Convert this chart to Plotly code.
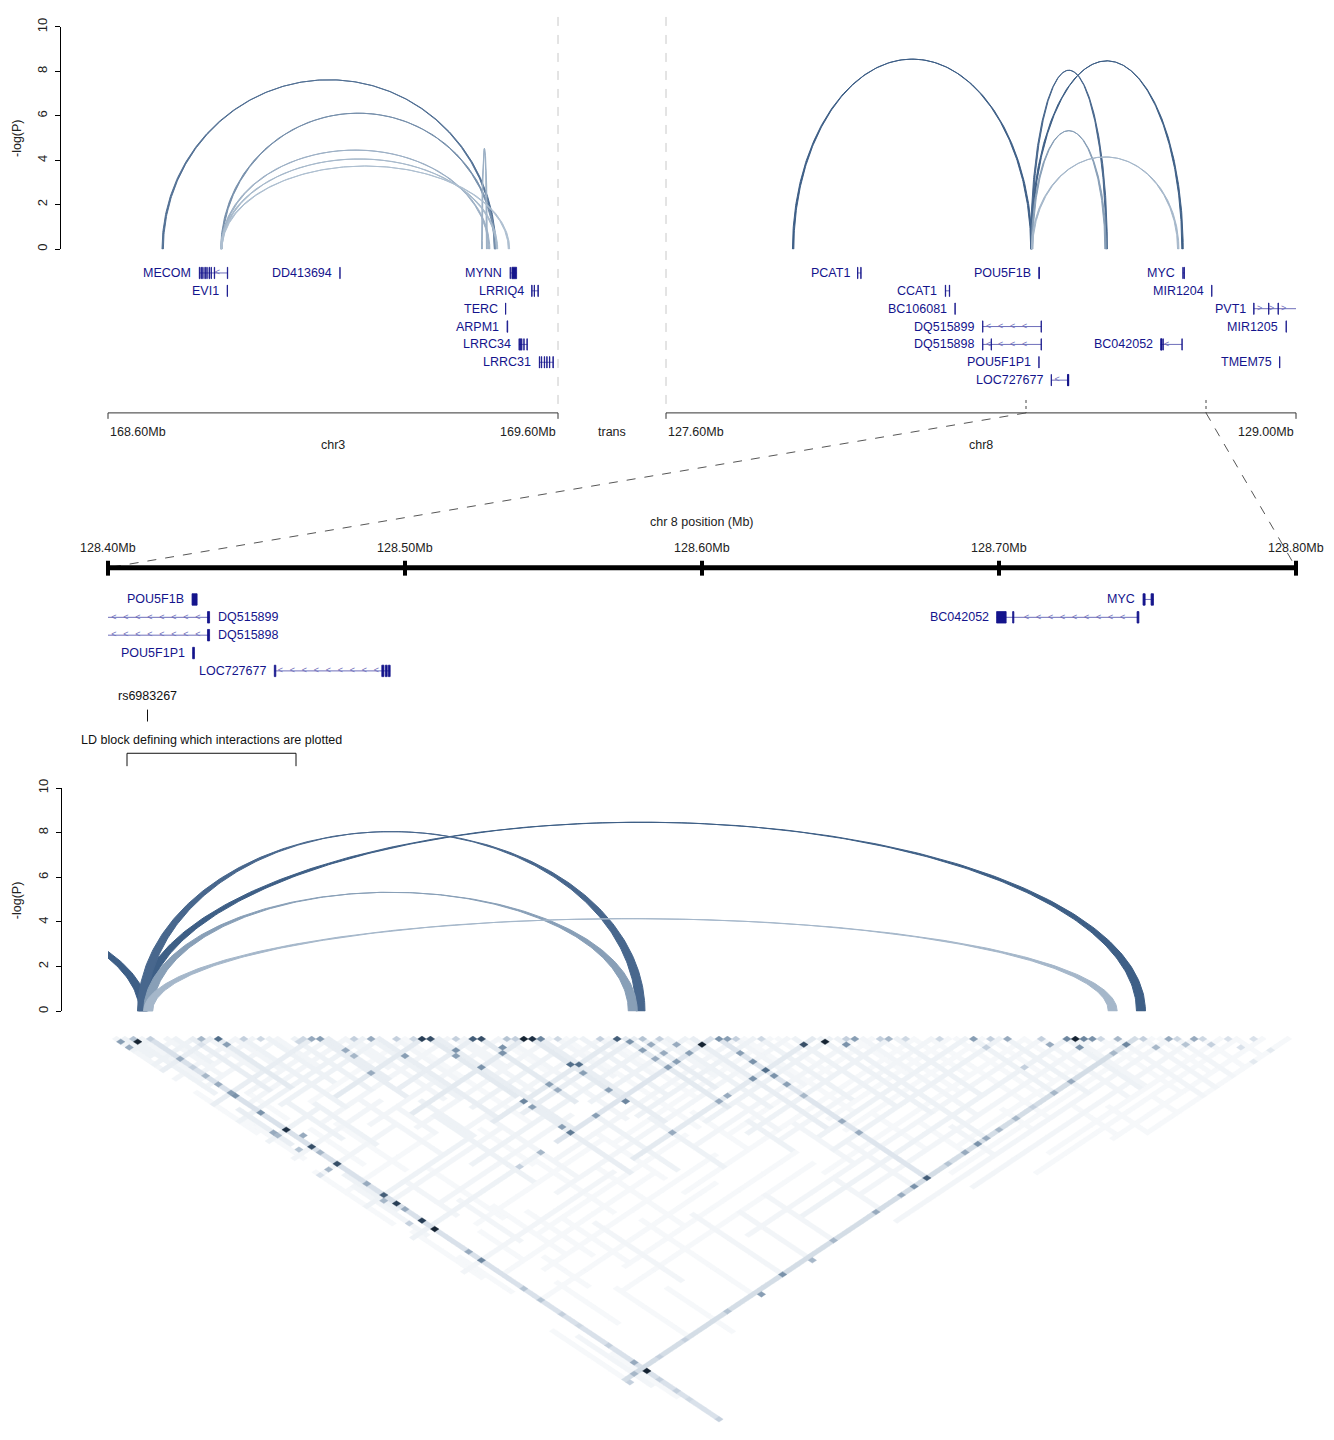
import numpy as np
import plotly.graph_objects as go

W, H = 1334, 1440
FONT = "Liberation Sans, Arial, Helvetica, sans-serif"
NAVY = "#14148c"
INTRON = "#6e6eba"

# ---------------------------------------------------------------- data
# cis interactions on chr3 : anchor1 (start,end), anchor2 (start,end) in Mb, -log(P)
chr3_a1 = [(168.7200, 168.7230), (168.8505, 168.8535), (168.8505, 168.8535),
           (168.8505, 168.8535), (168.8505, 168.8535), (169.4300, 169.4320)]
chr3_a2 = [(169.4590, 169.4620), (169.4585, 169.4615), (169.4455, 169.4485),
           (169.4630, 169.4660), (169.4895, 169.4925), (169.4410, 169.4430)]
chr3_logp = [7.62, 6.12, 4.46, 4.06, 3.74, 4.53]

# interactions on chr8
chr8_a1 = [(127.8810, 127.8840), (128.4100, 128.4130), (128.4100, 128.4130),
           (128.4120, 128.4150), (128.4120, 128.4150)]
chr8_a2 = [(128.4105, 128.4135), (128.5778, 128.5808), (128.7463, 128.7493),
           (128.5752, 128.5782), (128.7368, 128.7398)]
chr8_logp = [8.55, 8.05, 8.47, 5.33, 4.15]

# genes
gene_name = ["MECOM", "EVI1", "DD413694", "MYNN", "LRRIQ4", "TERC", "ARPM1", "LRRC34", "LRRC31",
             "PCAT1", "CCAT1", "BC106081", "DQ515899", "DQ515898", "POU5F1B", "POU5F1P1",
             "LOC727677", "MYC", "MIR1204", "PVT1", "MIR1205", "BC042052", "TMEM75"]
gene_chrom = ["chr3"] * 9 + ["chr8"] * 14
gene_start = [168.8029, 168.8648, 169.1152, 169.4935, 169.5415, 169.4834, 169.4868, 169.5133, 169.5585,
              128.0256, 128.2207, 128.2420, 128.3036, 128.3036, 128.4283, 128.4285,
              128.4560, 128.7485, 128.8125, 128.9060, 128.9778, 128.6992, 128.9634]
gene_end = [168.8660, 168.8656, 169.1158, 169.5080, 169.5563, 169.4839, 169.4882, 169.5318, 169.5896,
            128.0336, 128.2304, 128.2428, 128.4342, 128.4342, 128.4300, 128.4291,
            128.4950, 128.7520, 128.8132, 129.0040, 128.9786, 128.7471, 128.9642]
gene_strand = ["-", "-", "+", "+", "+", "-", "+", "-", "-",
               "+", "-", "+", "-", "-", "+", "+", "-", "+", "+", "+", "+", "-", "+"]
gene_exons = [
    [(168.8029, 168.8042), (168.8068, 168.8076), (168.8105, 168.8113), (168.8152, 168.8165),
     (168.8196, 168.8204), (168.8245, 168.8256), (168.8290, 168.8298), (168.8362, 168.8370),
     (168.8652, 168.8660)],
    [(168.8648, 168.8656)],
    [(169.1152, 169.1158)],
    [(169.4935, 169.4943), (169.4975, 169.5080)],
    [(169.5415, 169.5424), (169.5470, 169.5478), (169.5553, 169.5563)],
    [(169.4834, 169.4839)],
    [(169.4868, 169.4882)],
    [(169.5133, 169.5142), (169.5160, 169.5168), (169.5190, 169.5198), (169.5240, 169.5248),
     (169.5309, 169.5318)],
    [(169.5585, 169.5594), (169.5630, 169.5638), (169.5695, 169.5703), (169.5750, 169.5758),
     (169.5810, 169.5818), (169.5887, 169.5896)],
    [(128.0256, 128.0264), (128.0328, 128.0336)],
    [(128.2207, 128.2215), (128.2296, 128.2304)],
    [(128.2420, 128.2428)],
    [(128.3036, 128.3042), (128.4335, 128.4342)],
    [(128.3036, 128.3042), (128.3226, 128.3232), (128.4335, 128.4342)],
    [(128.4283, 128.4300)],
    [(128.4285, 128.4291)],
    [(128.4560, 128.4565), (128.4922, 128.4929), (128.4934, 128.4940), (128.4944, 128.4950)],
    [(128.7485, 128.7492), (128.7512, 128.7520)],
    [(128.8125, 128.8132)],
    [(128.9060, 128.9068), (128.9390, 128.9398), (128.9600, 128.9608), (129.0030, 129.0040)],
    [(128.9778, 128.9786)],
    [(128.6992, 128.7024), (128.7046, 128.7050), (128.7465, 128.7471)],
    [(128.9634, 128.9642)],
]
gene_row_top = [1, 2, 1, 1, 2, 3, 4, 5, 6,
                1, 2, 3, 4, 5, 1, 6, 7, 1, 2, 3, 4, 5, 6]
gene_row_zoom = [None] * 9 + [None, None, None, 2, 3, 1, 4, 5, 1, None, None, None, 2, None]

# axis ticks
chr3_ticks = [168.60, 169.60]
chr8_ticks = [127.60, 129.00]
zoom_ticks = [128.40, 128.50, 128.60, 128.70, 128.80]
logp_ticks = [0, 2, 4, 6, 8, 10]

snp_name = "rs6983267"
snp_pos = 128.4133
ld_block = (128.4064, 128.4633)

# LD matrix (r^2) between SNPs (index i < j)
N_SNP = 140
ld_row_runs = [  # (i, j_from, j_to, r2)
    (0, 1, 12, 0.07), (0, 20, 34, 0.05), (0, 48, 66, 0.05), (0, 104, 122, 0.04),
    (1, 2, 8, 0.10), (1, 30, 44, 0.06), (1, 70, 86, 0.05),
    (2, 3, 22, 0.10), (2, 28, 40, 0.12), (2, 55, 72, 0.08), (2, 80, 92, 0.06), (2, 108, 125, 0.07),
    (3, 4, 18, 0.08), (3, 52, 64, 0.10), (3, 115, 130, 0.06),
    (4, 5, 139, 0.20),
    (6, 7, 20, 0.08), (6, 26, 35, 0.06), (7, 8, 16, 0.10), (7, 40, 52, 0.05),
    (9, 10, 28, 0.12), (9, 33, 45, 0.09), (9, 60, 72, 0.07), (9, 78, 88, 0.05), (9, 96, 110, 0.05),
    (11, 12, 24, 0.08), (11, 42, 58, 0.06),
    (12, 13, 30, 0.14), (12, 36, 50, 0.10), (12, 70, 84, 0.07), (12, 90, 100, 0.05),
    (14, 15, 26, 0.07), (14, 60, 78, 0.05),
    (15, 16, 40, 0.09), (15, 75, 92, 0.06), (15, 104, 120, 0.05),
    (18, 19, 34, 0.11), (18, 40, 60, 0.08), (18, 80, 95, 0.06), (19, 20, 30, 0.07),
    (21, 22, 40, 0.10), (21, 46, 55, 0.07), (21, 85, 100, 0.05), (21, 110, 125, 0.05),
    (24, 25, 45, 0.13), (24, 52, 75, 0.10), (24, 90, 110, 0.07),
    (25, 26, 40, 0.12), (25, 48, 60, 0.09), (27, 28, 38, 0.07), (27, 60, 72, 0.05),
    (28, 29, 50, 0.07), (28, 72, 90, 0.05),
    (30, 31, 52, 0.11), (30, 58, 80, 0.08), (30, 95, 120, 0.06), (31, 32, 60, 0.12),
    (33, 34, 48, 0.07), (34, 35, 65, 0.06), (34, 80, 100, 0.05),
    (37, 38, 58, 0.16), (37, 62, 85, 0.12), (37, 100, 121, 0.08), (38, 39, 70, 0.12),
    (40, 41, 60, 0.07), (40, 75, 90, 0.05), (41, 42, 52, 0.08),
    (43, 44, 66, 0.14), (43, 72, 90, 0.10), (43, 105, 121, 0.07),
    (45, 46, 58, 0.06), (46, 47, 75, 0.07),
    (49, 50, 72, 0.16), (49, 78, 95, 0.11), (49, 105, 121, 0.08), (50, 51, 80, 0.12),
    (52, 53, 66, 0.07), (53, 54, 85, 0.06), (55, 56, 75, 0.09), (55, 82, 95, 0.06),
    (57, 58, 70, 0.07), (58, 59, 80, 0.06),
    (60, 61, 85, 0.14), (60, 90, 100, 0.09), (60, 110, 121, 0.07),
    (62, 63, 80, 0.12), (62, 86, 95, 0.08), (64, 65, 78, 0.07),
    (65, 66, 90, 0.11), (65, 96, 110, 0.07), (67, 68, 84, 0.06),
    (68, 69, 100, 0.12), (68, 106, 121, 0.08), (71, 72, 121, 0.17),
    (73, 74, 90, 0.07), (74, 75, 100, 0.06), (76, 77, 98, 0.09), (76, 104, 115, 0.06),
    (78, 79, 92, 0.06), (80, 81, 105, 0.10), (80, 110, 120, 0.06),
    (83, 84, 110, 0.11), (83, 115, 125, 0.07), (85, 86, 120, 0.10), (87, 88, 100, 0.06),
    (88, 89, 115, 0.07), (90, 91, 110, 0.05), (92, 93, 112, 0.09), (92, 118, 125, 0.06),
    (94, 95, 108, 0.05), (96, 97, 125, 0.06), (99, 100, 120, 0.05),
    (101, 102, 120, 0.10), (101, 125, 135, 0.06), (103, 104, 118, 0.06),
    (105, 106, 125, 0.11), (105, 130, 139, 0.06), (107, 108, 120, 0.05),
    (109, 110, 130, 0.07), (112, 113, 130, 0.10), (112, 134, 139, 0.06),
    (113, 114, 130, 0.08), (116, 117, 135, 0.06), (118, 119, 139, 0.08),
    (121, 122, 139, 0.08), (123, 124, 135, 0.06), (125, 126, 139, 0.07),
    (128, 129, 139, 0.06), (132, 133, 139, 0.05),
]
ld_col_runs = [  # (j, i_from, i_to, r2)
    (5, 0, 4, 0.10), (8, 0, 7, 0.08), (10, 0, 9, 0.09), (12, 0, 11, 0.13), (15, 0, 14, 0.08),
    (17, 3, 16, 0.07), (20, 2, 19, 0.08), (24, 0, 23, 0.13), (26, 6, 25, 0.07),
    (28, 5, 27, 0.08), (30, 0, 29, 0.11), (32, 8, 31, 0.09), (35, 12, 34, 0.06),
    (37, 0, 12, 0.10), (37, 16, 36, 0.15), (40, 10, 39, 0.08),
    (43, 0, 20, 0.08), (43, 24, 42, 0.13), (46, 15, 45, 0.07),
    (49, 0, 18, 0.08), (49, 22, 48, 0.15), (52, 20, 51, 0.07),
    (55, 0, 20, 0.06), (55, 30, 54, 0.09), (58, 25, 57, 0.07),
    (60, 0, 25, 0.10), (60, 30, 59, 0.16), (62, 5, 30, 0.08), (62, 35, 61, 0.13),
    (65, 20, 64, 0.09), (68, 10, 40, 0.07), (68, 45, 67, 0.11),
    (71, 0, 30, 0.10), (71, 34, 70, 0.17), (74, 30, 73, 0.07),
    (76, 10, 40, 0.05), (76, 48, 75, 0.09), (78, 40, 77, 0.06), (80, 25, 79, 0.08),
    (83, 0, 35, 0.08), (83, 40, 82, 0.14), (85, 15, 50, 0.06), (85, 55, 84, 0.11),
    (88, 5, 40, 0.05), (88, 50, 87, 0.08), (90, 55, 89, 0.06),
    (92, 10, 50, 0.06), (92, 58, 91, 0.09), (95, 40, 94, 0.06),
    (97, 5, 45, 0.05), (97, 60, 96, 0.07), (99, 70, 98, 0.05),
    (101, 20, 60, 0.06), (101, 66, 100, 0.09), (103, 70, 102, 0.06),
    (105, 15, 60, 0.06), (105, 65, 104, 0.10), (108, 60, 107, 0.06),
    (110, 40, 109, 0.07), (113, 50, 112, 0.09), (116, 60, 115, 0.08),
    (119, 80, 118, 0.06), (121, 0, 120, 0.22), (123, 75, 122, 0.06),
    (125, 60, 124, 0.07), (128, 75, 127, 0.07), (131, 90, 130, 0.05),
    (133, 85, 132, 0.05), (136, 100, 135, 0.05), (139, 105, 138, 0.04),
]
ld_cells = [  # (i, j, r2)
    (0, 2, 0.50), (0, 4, 0.45), (2, 3, 0.35), (2, 4, 0.95), (4, 5, 0.30), (4, 9, 0.20),
    (4, 12, 0.45), (4, 15, 0.30), (4, 18, 0.40), (4, 21, 0.45), (4, 24, 0.50), (4, 25, 0.55),
    (4, 31, 0.55), (4, 37, 0.90), (4, 43, 0.80), (4, 49, 0.80), (4, 56, 0.45), (4, 60, 0.75),
    (4, 63, 0.85), (4, 65, 0.45), (4, 69, 0.85), (4, 72, 0.95), (4, 80, 0.45), (4, 83, 0.60),
    (4, 93, 0.35), (4, 97, 0.35), (4, 102, 0.30), (4, 106, 0.25), (4, 113, 0.30), (4, 119, 0.45),
    (4, 122, 0.95), (4, 125, 0.30), (4, 129, 0.30), (4, 132, 0.25), (4, 135, 0.20), (4, 139, 0.30),
    (2, 121, 0.40), (0, 122, 0.30), (2, 36, 0.45), (2, 37, 0.40), (5, 40, 0.45), (2, 42, 0.35),
    (4, 45, 0.40), (2, 49, 0.40), (0, 49, 0.20), (3, 61, 0.40), (2, 68, 0.30), (9, 12, 0.20),
    (10, 11, 0.40), (12, 13, 0.70), (12, 15, 0.50), (21, 23, 0.25), (23, 24, 0.45), (24, 25, 0.50),
    (25, 30, 0.45), (25, 32, 0.40), (24, 37, 0.45), (30, 31, 0.45), (31, 38, 0.50), (36, 37, 0.85),
    (37, 38, 0.80), (38, 43, 0.55), (37, 44, 0.50), (38, 49, 0.55), (42, 43, 0.75), (43, 44, 0.80),
    (43, 49, 0.55), (44, 48, 0.55), (46, 47, 0.35), (47, 48, 0.30), (48, 49, 0.95), (49, 50, 0.90),
    (50, 51, 0.60), (49, 59, 0.70), (50, 60, 0.70), (49, 62, 0.50), (43, 60, 0.50), (43, 62, 0.45),
    (37, 60, 0.60), (37, 62, 0.50), (49, 68, 0.50), (49, 72, 0.60), (37, 69, 0.50), (37, 71, 0.65),
    (43, 71, 0.50), (30, 71, 0.40), (25, 71, 0.30), (59, 60, 0.75), (60, 62, 0.55), (62, 65, 0.45),
    (65, 68, 0.45), (68, 71, 0.95), (71, 72, 0.55), (72, 73, 0.50), (80, 83, 0.80), (83, 85, 0.95),
    (85, 88, 0.55), (87, 88, 0.50), (91, 92, 0.40), (60, 65, 0.50), (60, 68, 0.45), (62, 68, 0.45),
    (60, 71, 0.50), (62, 71, 0.50), (65, 71, 0.50), (60, 83, 0.45), (49, 83, 0.45), (62, 83, 0.45),
    (71, 77, 0.50), (71, 80, 0.55), (71, 83, 0.70), (68, 83, 0.55), (71, 85, 0.55), (71, 88, 0.50),
    (71, 92, 0.40), (71, 101, 0.45), (71, 105, 0.45), (68, 121, 0.55), (65, 121, 0.45), (59, 121, 0.45),
    (101, 102, 0.50), (105, 106, 0.45), (101, 105, 0.30), (112, 113, 0.60), (113, 114, 0.95),
    (114, 115, 0.60), (115, 116, 0.55), (109, 112, 0.45), (112, 116, 0.55), (118, 119, 0.40),
    (118, 121, 0.60), (124, 125, 0.45), (127, 128, 0.45), (125, 128, 0.35), (121, 125, 0.40),
    (128, 131, 0.30), (131, 135, 0.20), (134, 139, 0.15), (130, 139, 0.15), (105, 121, 0.45),
    (101, 121, 0.40), (96, 121, 0.30), (92, 121, 0.40), (88, 121, 0.40), (85, 121, 0.45),
    (83, 121, 0.55), (80, 121, 0.45), (76, 121, 0.35), (71, 121, 0.75), (115, 121, 0.40),
    (102, 113, 0.30), (49, 121, 0.40), (43, 122, 0.40), (37, 121, 0.55), (31, 122, 0.50),
    (24, 121, 0.35), (14, 121, 0.30), (8, 121, 0.30),
    (15, 16, 0.30), (17, 18, 0.25), (22, 23, 0.25), (28, 29, 0.30), (33, 34, 0.30),
    (35, 36, 0.25), (40, 41, 0.30), (52, 53, 0.25), (57, 58, 0.30), (62, 63, 0.35),
    (64, 65, 0.30), (73, 74, 0.30), (76, 77, 0.25), (86, 87, 0.30), (90, 91, 0.30),
    (93, 94, 0.25), (97, 98, 0.25), (103, 104, 0.30), (109, 110, 0.30), (116, 117, 0.25),
    (121, 122, 0.30), (125, 126, 0.25), (128, 129, 0.25), (131, 132, 0.20), (134, 135, 0.20),
]

# ---------------------------------------------------------------- layout helpers
def py(p):
    return 1 - p / H


def pxl(p):
    return p / W


X3_DOM, X3_RNG = [pxl(108), pxl(558)], [168.6, 169.6]
X8_DOM, X8_RNG = [pxl(666), pxl(1296)], [127.6, 129.0]
XZ_DOM, XZ_RNG = [pxl(108), pxl(1296)], [128.4, 128.8]
XH_DOM, XH_RNG = [pxl(108), pxl(1296)], [0, N_SNP]
HM_TOP = 1035
HM_CELL_H = 0.674 * (1188 / N_SNP)
HM_YMAX = (H - HM_TOP) / HM_CELL_H


def to_paper(dom, rng, v):
    return dom[0] + (v - rng[0]) / (rng[1] - rng[0]) * (dom[1] - dom[0])


def px_per_unit(dom, rng):
    return (dom[1] - dom[0]) * W / (rng[1] - rng[0])


ARC_LIGHT = np.array([0xb4, 0xc4, 0xd4], float)
ARC_DARK = np.array([0x3d, 0x5e, 0x86], float)


def arc_color(p):
    t = float(np.clip((p - 3.5) / 5.0, 0, 1))
    c = ARC_LIGHT + (ARC_DARK - ARC_LIGHT) * t
    return "rgb(%d,%d,%d)" % tuple(int(round(v)) for v in c)


def arc_xy(a1, a2, h, n=260):
    lo, hi = sorted([a1, a2])
    co, ro = (lo[0] + hi[1]) / 2, (hi[1] - lo[0]) / 2
    ci, ri = (lo[1] + hi[0]) / 2, (hi[0] - lo[1]) / 2
    th = np.linspace(np.pi, 0, n)
    xo, yo = co + ro * np.cos(th), h * np.sin(th)
    xi, yi = ci + ri * np.cos(th[::-1]), h * np.sin(th[::-1])
    return (np.concatenate([xo, xi, xo[:1]]), np.concatenate([yo, yi, yo[:1]]))


LD_STOPS = [(0.0, (255, 255, 255)), (0.1, (238, 242, 246)), (0.3, (196, 208, 221)),
            (0.5, (136, 158, 180)), (0.7, (82, 110, 138)), (0.85, (40, 62, 86)),
            (1.0, (11, 21, 32))]


def ld_color(v):
    for (a, ca), (b, cb) in zip(LD_STOPS[:-1], LD_STOPS[1:]):
        if v <= b:
            t = (v - a) / (b - a)
            c = [ca[k] + (cb[k] - ca[k]) * t for k in range(3)]
            return "rgb(%d,%d,%d)" % tuple(int(round(x)) for x in c)
    return "rgb(%d,%d,%d)" % LD_STOPS[-1][1]


fig = go.Figure()
shapes, annots = [], []

# ---------------------------------------------------------------- arcs
def add_arcs(a1s, a2s, ps, xa, ya):
    order = np.argsort(ps)[::-1]
    for k in order:
        x, y = arc_xy(a1s[k], a2s[k], ps[k])
        col = arc_color(ps[k])
        fig.add_trace(go.Scatter(x=x, y=y, xaxis=xa, yaxis=ya, mode="lines", fill="toself",
                                 fillcolor=col, line=dict(color=col, width=1),
                                 hoverinfo="skip", showlegend=False))


add_arcs(chr3_a1, chr3_a2, chr3_logp, "x", "y")
add_arcs(chr8_a1, chr8_a2, chr8_logp, "x2", "y")
add_arcs(chr8_a1, chr8_a2, chr8_logp, "x3", "y4")

# ---------------------------------------------------------------- genes
def draw_gene(g, xa, ya, row, dom, rng):
    s, e = gene_start[g], gene_end[g]
    ppu = px_per_unit(dom, rng)
    if (e - s) * ppu > 1.5:
        fig.add_trace(go.Scatter(x=[s, e], y=[row, row], xaxis=xa, yaxis=ya, mode="lines",
                                 line=dict(color=INTRON, width=1), hoverinfo="skip",
                                 showlegend=False))
    vs, ve = max(s, rng[0]), min(e, rng[1])
    length_px = (ve - vs) * ppu
    if length_px > 14:
        step = 12.0 / ppu
        n = int(length_px // 12)
        xs = []
        for k in range(n):
            x = vs + step * (k + 0.5)
            near = any(ex0 - 2.5 / ppu <= x <= ex1 + 2.5 / ppu for ex0, ex1 in gene_exons[g])
            if not near and x < ve:
                xs.append(x)
        if xs:
            sym = "<" if gene_strand[g] == "-" else ">"
            fig.add_trace(go.Scatter(x=xs, y=[row] * len(xs), xaxis=xa, yaxis=ya, mode="text",
                                     text=[sym] * len(xs), textposition="middle center",
                                     textfont=dict(size=9, color=INTRON, family=FONT),
                                     hoverinfo="skip", showlegend=False))
    for ex0, ex1 in gene_exons[g]:
        shapes.append(dict(type="rect", xref=xa, yref=ya, x0=ex0, x1=ex1,
                           y0=row - 0.32, y1=row + 0.32, fillcolor=NAVY,
                           line=dict(color=NAVY, width=0.8), layer="above"))
    if s < rng[0]:
        annots.append(dict(x=e, y=row, xref=xa, yref=ya, text=gene_name[g], showarrow=False,
                           xanchor="left", yanchor="middle", xshift=6,
                           font=dict(size=12.5, color=NAVY, family=FONT)))
    else:
        annots.append(dict(x=s, y=row, xref=xa, yref=ya, text=gene_name[g], showarrow=False,
                           xanchor="right", yanchor="middle", xshift=-6,
                           font=dict(size=12.5, color=NAVY, family=FONT)))


for g in range(len(gene_name)):
    if gene_chrom[g] == "chr3":
        draw_gene(g, "x", "y2", gene_row_top[g], X3_DOM, X3_RNG)
    else:
        draw_gene(g, "x2", "y2", gene_row_top[g], X8_DOM, X8_RNG)
        if gene_row_zoom[g] is not None:
            draw_gene(g, "x3", "y3", gene_row_zoom[g], XZ_DOM, XZ_RNG)

# ---------------------------------------------------------------- LD heatmap
ld = {}
for i, j0, j1, v in ld_row_runs:
    for j in range(j0, j1 + 1):
        ld[(i, j)] = max(ld.get((i, j), 0), v)
for j, i0, i1, v in ld_col_runs:
    for i in range(i0, i1 + 1):
        ld[(i, j)] = max(ld.get((i, j), 0), v)
for i, j, v in ld_cells:
    ld[(i, j)] = v

levels = {}
for (i, j), v in ld.items():
    if not (0 <= i < j < N_SNP) or v <= 0:
        continue
    lv = round(v / 0.025) * 0.025
    levels.setdefault(lv, []).append((i, j))

for lv in sorted(levels):
    xs, ys = [], []
    for i, j in levels[lv]:
        cx, cy = (i + j + 1) / 2.0, (j - i) / 2.0
        xs += [cx - 0.5, cx, cx + 0.5, cx, cx - 0.5, None]
        ys += [cy, cy - 0.5, cy, cy + 0.5, cy, None]
    col = ld_color(lv)
    fig.add_trace(go.Scatter(x=xs, y=ys, xaxis="x4", yaxis="y5", mode="lines", fill="toself",
                             fillcolor=col, line=dict(color=col, width=0.4),
                             hoverinfo="skip", showlegend=False))

# ---------------------------------------------------------------- genomic axes (top)
AX_COL = "#333333"
for dom, rng, ticks, name in [(X3_DOM, X3_RNG, chr3_ticks, "chr3"),
                              (X8_DOM, X8_RNG, chr8_ticks, "chr8")]:
    x0p, x1p = to_paper(dom, rng, rng[0]), to_paper(dom, rng, rng[1])
    shapes.append(dict(type="line", xref="paper", yref="paper", x0=x0p, x1=x1p,
                       y0=py(407), y1=py(407), line=dict(color=AX_COL, width=1)))
    for k, t in enumerate(ticks):
        tp = to_paper(dom, rng, t)
        shapes.append(dict(type="line", xref="paper", yref="paper", x0=tp, x1=tp,
                           y0=py(407), y1=py(413), line=dict(color=AX_COL, width=1)))
        annots.append(dict(x=tp, y=py(426), xref="paper", yref="paper", text="%.2fMb" % t,
                           showarrow=False, xanchor="left" if k == 0 else "right",
                           yanchor="middle", font=dict(size=12.5, color="#222", family=FONT)))
    annots.append(dict(x=(x0p + x1p) / 2, y=py(439), xref="paper", yref="paper", text=name,
                       showarrow=False, xanchor="center", yanchor="middle",
                       font=dict(size=12.5, color="#222", family=FONT)))

annots.append(dict(x=pxl(612), y=py(426), xref="paper", yref="paper", text="trans",
                   showarrow=False, xanchor="center", yanchor="middle",
                   font=dict(size=12.5, color="#222", family=FONT)))

for dom, rng, v in [(X3_DOM, X3_RNG, X3_RNG[1]), (X8_DOM, X8_RNG, X8_RNG[0])]:
    xp = to_paper(dom, rng, v)
    shapes.append(dict(type="line", xref="paper", yref="paper", x0=xp, x1=xp,
                       y0=py(8), y1=py(403), line=dict(color="#c8c8c8", width=1, dash="dash")))

for v in [XZ_RNG[0], XZ_RNG[1]]:
    xt = to_paper(X8_DOM, X8_RNG, v)
    xb = to_paper(XZ_DOM, XZ_RNG, v)
    shapes.append(dict(type="line", xref="paper", yref="paper", x0=xt, x1=xt,
                       y0=py(394), y1=py(407), line=dict(color="#444", width=1, dash="dot")))
    shapes.append(dict(type="line", xref="paper", yref="paper", x0=xt, x1=xb,
                       y0=py(407), y1=py(563), line=dict(color="#555", width=1, dash="dash")))

# ---------------------------------------------------------------- zoom axis
zl, zr = to_paper(XZ_DOM, XZ_RNG, XZ_RNG[0]), to_paper(XZ_DOM, XZ_RNG, XZ_RNG[1])
shapes.append(dict(type="line", xref="paper", yref="paper", x0=zl, x1=zr, y0=py(563), y1=py(563),
                   line=dict(color="black", width=5)))
for t in zoom_ticks:
    tp = to_paper(XZ_DOM, XZ_RNG, t)
    shapes.append(dict(type="line", xref="paper", yref="paper", x0=tp, x1=tp, y0=py(556),
                       y1=py(571), line=dict(color="black", width=4)))
    annots.append(dict(x=tp, y=py(543), xref="paper", yref="paper", text="%.2fMb" % t,
                       showarrow=False, xanchor="center", yanchor="middle",
                       font=dict(size=12.5, color="#222", family=FONT)))
annots.append(dict(x=(zl + zr) / 2, y=py(517), xref="paper", yref="paper",
                   text="chr 8 position (Mb)", showarrow=False, xanchor="center",
                   yanchor="middle", font=dict(size=12.5, color="#222", family=FONT)))

annots.append(dict(x=snp_pos, y=py(692), xref="x3", yref="paper", text=snp_name, showarrow=False,
                   xanchor="center", yanchor="middle", font=dict(size=12.5, color="#111", family=FONT)))
shapes.append(dict(type="line", xref="x3", yref="paper", x0=snp_pos, x1=snp_pos,
                   y0=py(706), y1=py(718), line=dict(color="#111", width=1)))
annots.append(dict(x=(ld_block[0] + ld_block[1]) / 2, y=py(737), xref="x3", yref="paper",
                   text="LD block defining which interactions are plotted", showarrow=False,
                   xanchor="center", yanchor="middle",
                   font=dict(size=12.5, color="#111", family=FONT)))
shapes.append(dict(type="path", xref="x3", yref="paper",
                   path="M %f,%f L %f,%f L %f,%f L %f,%f" % (
                       ld_block[0], py(763), ld_block[0], py(750),
                       ld_block[1], py(750), ld_block[1], py(763)),
                   line=dict(color="#111", width=1)))

for yc in [130, 898]:
    annots.append(dict(x=pxl(17), y=py(yc), xref="paper", yref="paper", text="-log(P)",
                       textangle=-90, showarrow=False, xanchor="center", yanchor="middle",
                       font=dict(size=12.5, color="#222", family=FONT)))

# ---------------------------------------------------------------- layout
logp_axis = dict(range=[0, 10], anchor="free", showline=True, linecolor="black", linewidth=1,
                 ticks="outside", ticklen=5, tickwidth=1, tickcolor="black",
                 tickvals=logp_ticks, tickangle=-90, ticklabelstandoff=3,
                 tickfont=dict(size=13, color="#222", family=FONT),
                 showgrid=False, zeroline=False, fixedrange=True)

fig.update_layout(
    width=W, height=H, margin=dict(l=0, r=0, t=0, b=0),
    paper_bgcolor="white", plot_bgcolor="white", showlegend=False, hovermode=False,
    xaxis=dict(domain=X3_DOM, range=X3_RNG, visible=False, anchor="y"),
    xaxis2=dict(domain=X8_DOM, range=X8_RNG, visible=False, anchor="y"),
    xaxis3=dict(domain=XZ_DOM, range=XZ_RNG, visible=False, anchor="y3"),
    xaxis4=dict(domain=XH_DOM, range=XH_RNG, visible=False, anchor="y5"),
    yaxis=dict(domain=[py(242), py(18)], position=pxl(60), **logp_axis),
    yaxis2=dict(domain=[py(392), py(248)], range=[8, 0], visible=False, anchor="x"),
    yaxis3=dict(domain=[py(757), py(577)], range=[10, 0], visible=False, anchor="x3"),
    yaxis4=dict(domain=[py(1010), py(785)], position=pxl(61), **logp_axis),
    yaxis5=dict(domain=[0, py(HM_TOP)], range=[HM_YMAX, 0], visible=False, anchor="x4"),
    shapes=shapes, annotations=annots,
    font=dict(family=FONT),
)

fig.write_html("out.html", config={"displayModeBar": False},
               post_script="document.body.style.margin='0px';document.body.style.padding='0px';")
